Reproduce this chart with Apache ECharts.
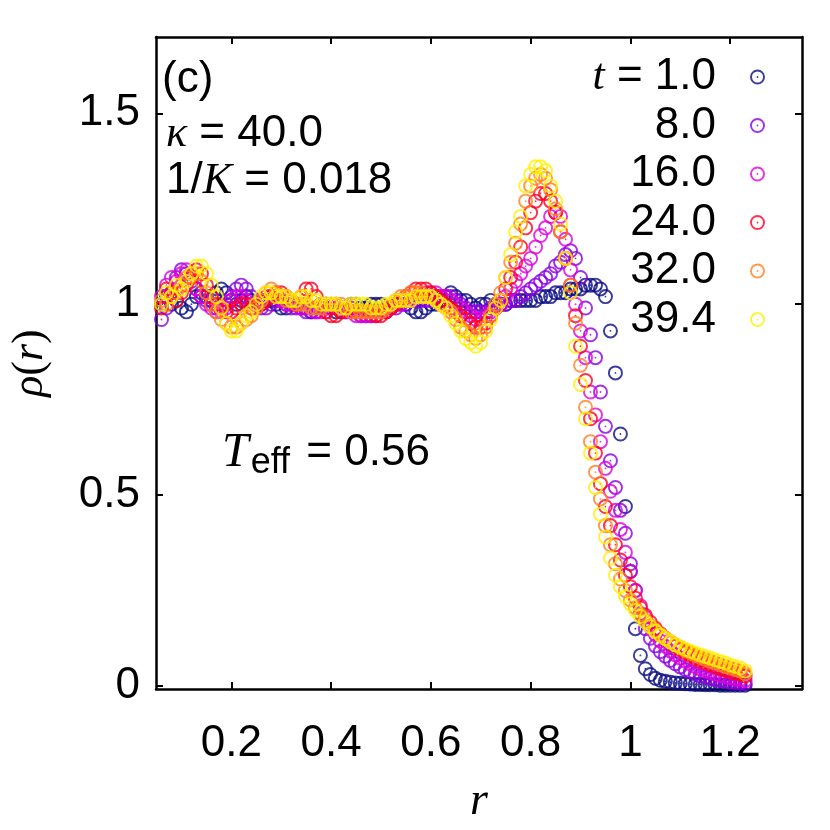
<!DOCTYPE html>
<html>
<head>
<meta charset="utf-8">
<script src="https://cdn.jsdelivr.net/npm/echarts@6/dist/echarts.min.js"></script>
<style>
html, body { margin: 0; padding: 0; background: #fff; }
#chart { width: 830px; height: 830px; }
</style>
</head>
<body>
<div id="chart"></div>
<script>
// radial positions (shared by all snapshots)
const radius = [
    0.06,0.07,0.08,0.09,0.10,0.11,0.12,0.13,0.14,0.15,
    0.16,0.17,0.18,0.19,0.20,0.21,0.22,0.23,0.24,0.25,
    0.26,0.27,0.28,0.29,0.30,0.31,0.32,0.33,0.34,0.35,
    0.36,0.37,0.38,0.39,0.40,0.41,0.42,0.43,0.44,0.45,
    0.46,0.47,0.48,0.49,0.50,0.51,0.52,0.53,0.54,0.55,
    0.56,0.57,0.58,0.59,0.60,0.61,0.62,0.63,0.64,0.65,
    0.66,0.67,0.68,0.69,0.70,0.71,0.72,0.73,0.74,0.75,
    0.76,0.77,0.78,0.79,0.80,0.81,0.82,0.83,0.84,0.85,
    0.86,0.87,0.88,0.89,0.90,0.91,0.92,0.93,0.94,0.95,
    0.96,0.97,0.98,0.99,1.00,1.01,1.02,1.03,1.04,1.05,
    1.06,1.07,1.08,1.09,1.10,1.11,1.12,1.13,1.14,1.15,
    1.16,1.17,1.18,1.19,1.20,1.21,1.22,1.23
];

// rho(r) at t = 1.0
const rhoT1 = [
    1.00,1.02,1.00,1.01,0.99,0.98,1.00,1.02,1.03,1.02,
    1.01,1.03,1.04,1.03,1.01,1.00,1.01,1.02,1.01,1.00,
    1.00,1.01,1.01,1.00,0.99,0.99,1.00,1.00,0.99,0.99,
    0.98,0.99,1.00,1.00,0.99,0.98,0.98,0.99,1.00,1.00,
    0.99,0.99,1.00,1.00,1.00,0.99,0.99,1.00,1.01,1.00,
    0.99,0.98,0.98,0.99,1.00,1.00,1.01,1.02,1.03,1.02,
    1.01,1.01,1.00,0.99,1.00,1.00,1.01,1.00,1.00,1.00,
    1.01,1.01,1.01,1.01,1.01,1.01,1.02,1.02,1.02,1.03,
    1.03,1.03,1.04,1.04,1.04,1.05,1.05,1.05,1.04,1.02,
    0.93,0.82,0.66,0.47,0.30,0.15,0.08,0.045,0.03,0.02,
    0.015,0.012,0.010,0.008,0.007,0.006,0.005,0.004,0.004,0.003,
    0.003,0.003,0.002,0.002,0.002,0.002,0.002,0.002
];

// t = 8.0
const rhoT8 = [
    0.96,0.99,1.03,1.07,1.09,1.08,1.06,1.04,1.02,1.01,
    1.00,0.99,0.99,1.00,1.02,1.04,1.05,1.04,1.02,1.00,
    0.99,0.99,1.00,1.01,1.01,1.00,0.99,0.99,0.99,0.98,
    0.98,0.98,0.99,1.00,1.00,1.00,0.99,0.98,0.98,0.98,
    0.97,0.97,0.97,0.98,0.98,0.98,0.99,0.99,1.00,1.00,
    1.01,1.01,1.01,1.01,1.01,1.02,1.02,1.02,1.02,1.01,
    1.00,0.99,0.98,0.98,0.98,0.98,0.99,0.99,1.00,1.00,
    1.01,1.01,1.02,1.03,1.04,1.05,1.06,1.07,1.08,1.10,
    1.11,1.13,1.14,1.12,1.07,0.99,0.92,0.86,0.77,0.68,
    0.59,0.52,0.46,0.40,0.32,0.25,0.19,0.15,0.125,0.105,
    0.090,0.078,0.067,0.058,0.050,0.043,0.037,0.032,0.027,0.023,
    0.020,0.017,0.014,0.012,0.010,0.009,0.008,0.007
];

// t = 16.0
const rhoT16 = [
    1.02,1.05,1.07,1.06,1.08,1.09,1.07,1.04,1.02,1.00,
    0.99,0.98,0.98,0.99,1.01,1.02,1.02,1.01,1.00,1.00,
    1.01,1.02,1.02,1.02,1.01,1.00,1.00,1.00,0.99,0.99,
    0.99,0.98,0.98,0.98,0.99,0.99,0.99,0.98,0.98,0.97,
    0.97,0.97,0.97,0.97,0.98,0.98,0.99,1.00,1.00,1.01,
    1.01,1.02,1.02,1.03,1.03,1.03,1.02,1.02,1.01,1.00,
    0.99,0.98,0.97,0.96,0.96,0.97,0.98,0.99,1.00,1.02,
    1.04,1.06,1.08,1.10,1.12,1.15,1.18,1.20,1.23,1.24,
    1.23,1.17,1.09,1.00,0.93,0.86,0.77,0.71,0.64,0.57,
    0.51,0.46,0.41,0.35,0.30,0.25,0.21,0.18,0.155,0.135,
    0.118,0.104,0.092,0.082,0.073,0.065,0.058,0.051,0.045,0.040,
    0.035,0.031,0.027,0.024,0.021,0.018,0.016,0.014
];

// t = 24.0
const rhoT24 = [
    0.99,1.04,1.03,1.01,1.03,1.05,1.07,1.09,1.08,1.05,
    1.02,1.00,0.99,0.98,0.98,0.99,1.00,1.00,0.99,0.99,
    1.00,1.01,1.02,1.03,1.03,1.02,1.01,1.00,1.02,1.04,
    1.04,1.02,1.00,0.98,0.97,0.97,0.98,0.99,0.99,0.98,
    0.98,0.98,0.98,0.97,0.97,0.98,0.99,1.00,1.01,1.02,
    1.03,1.04,1.04,1.04,1.03,1.02,1.01,1.00,0.99,0.98,
    0.97,0.96,0.95,0.94,0.94,0.95,0.97,0.99,1.01,1.04,
    1.07,1.11,1.15,1.20,1.24,1.27,1.29,1.29,1.27,1.24,
    1.19,1.12,1.05,0.97,0.89,0.80,0.70,0.61,0.53,0.47,
    0.42,0.37,0.33,0.29,0.26,0.23,0.205,0.185,0.167,0.151,
    0.137,0.125,0.114,0.104,0.095,0.087,0.080,0.073,0.067,0.061,
    0.056,0.051,0.046,0.042,0.038,0.034,0.030,0.026
];

// t = 32.0
const rhoT32 = [
    1.01,1.00,1.02,1.03,1.05,1.07,1.08,1.08,1.06,1.03,
    1.00,0.98,0.96,0.95,0.94,0.94,0.95,0.96,0.97,0.99,
    1.01,1.03,1.04,1.03,1.02,1.01,1.01,1.00,1.00,1.00,
    0.99,0.99,0.99,1.00,1.00,1.00,1.00,0.99,0.98,0.98,
    0.98,0.98,0.98,0.98,0.98,0.99,1.00,1.01,1.02,1.02,
    1.03,1.03,1.03,1.02,1.02,1.01,1.00,0.99,0.98,0.96,
    0.94,0.93,0.92,0.91,0.92,0.94,0.97,1.00,1.03,1.07,
    1.11,1.16,1.21,1.27,1.31,1.33,1.34,1.33,1.30,1.25,
    1.19,1.12,1.05,0.95,0.84,0.73,0.64,0.56,0.49,0.42,
    0.37,0.32,0.28,0.25,0.225,0.205,0.188,0.172,0.158,0.146,
    0.135,0.125,0.116,0.108,0.100,0.093,0.087,0.081,0.075,0.070,
    0.065,0.060,0.056,0.051,0.047,0.043,0.039,0.032
];

// t = 39.4
const rhoT39 = [
    1.00,1.03,1.02,1.05,1.04,1.06,1.08,1.10,1.10,1.08,
    1.05,1.02,0.99,0.95,0.93,0.93,0.95,0.97,0.98,1.00,
    1.02,1.03,1.03,1.02,1.02,1.02,1.01,1.01,1.02,1.02,
    1.01,1.01,1.00,1.00,1.00,1.00,0.99,0.99,1.00,1.00,
    1.00,1.00,0.99,0.99,0.99,1.00,1.00,1.01,1.01,1.01,
    1.01,1.02,1.02,1.02,1.02,1.01,1.00,0.99,0.97,0.95,
    0.93,0.91,0.90,0.89,0.90,0.93,0.96,0.99,1.01,1.07,
    1.13,1.19,1.23,1.31,1.34,1.36,1.36,1.35,1.31,1.27,
    1.21,1.12,1.03,0.89,0.79,0.70,0.61,0.52,0.45,0.39,
    0.335,0.29,0.26,0.235,0.215,0.198,0.182,0.168,0.155,0.143,
    0.133,0.124,0.115,0.108,0.102,0.096,0.091,0.086,0.081,0.077,
    0.073,0.068,0.064,0.060,0.055,0.051,0.047,0.039
];

const seriesNames = ['1.0', '8.0', '16.0', '24.0', '32.0', '39.4'];
const seriesValues = [rhoT1, rhoT8, rhoT16, rhoT24, rhoT32, rhoT39];
const seriesColors = ['#0c0c82', '#8a00e0', '#dc00dc', '#ff0020', '#ff8020', '#fff000'];

const xTicks = [0.2, 0.4, 0.6, 0.8, 1, 1.2];
const yTicks = [0, 0.5, 1, 1.5];

// open ring with a dot in the middle (gnuplot point type 6 look)
const ringDot = 'path://M50,0A50,50 0 1,1 50,100A50,50 0 1,1 50,0Z' +
    'M50,13A37,37 0 1,0 50,87A37,37 0 1,0 50,13Z' +
    'M50,44A6,6 0 1,1 50,56A6,6 0 1,1 50,44Z';

const sans = '"Liberation Sans", Arial, sans-serif';
const serif = '"Liberation Serif", "DejaVu Serif", serif';
const italic = { fontFamily: serif, fontStyle: 'italic', fontSize: 44 };

const axisLine = { show: true, onZero: false, lineStyle: { color: '#000', width: 2.5 } };
const tickStyle = { color: '#000', width: 2 };

let chart = echarts.init(document.getElementById('chart'), null, { renderer: 'canvas' });

let series = seriesNames.map(function (name, k) {
    return {
        name: name,
        type: 'scatter',
        symbol: ringDot,
        symbolSize: 15,
        itemStyle: { color: seriesColors[k] },
        emphasis: { disabled: true },
        data: radius.map(function (r, i) { return [r, seriesValues[k][i]]; })
    };
});

let option = {
    animation: false,
    backgroundColor: '#fff',
    grid: { left: 151, right: 28, top: 37, bottom: 138 },
    xAxis: [
        {
            type: 'value', position: 'bottom',
            min: 0.049, max: 1.344,
            axisLine: axisLine,
            axisTick: { inside: true, length: 7, lineStyle: tickStyle, customValues: xTicks },
            axisLabel: { customValues: xTicks, color: '#000', fontSize: 44, fontFamily: sans, margin: 33 },
            splitLine: { show: false },
            name: 'r', nameLocation: 'middle', nameGap: 90,
            nameTextStyle: { color: '#000', fontSize: 46, fontFamily: serif, fontStyle: 'italic' }
        },
        {
            type: 'value', position: 'top',
            min: 0.049, max: 1.344,
            axisLine: axisLine,
            axisTick: { inside: true, length: 7, lineStyle: tickStyle, customValues: xTicks },
            axisLabel: { show: false },
            splitLine: { show: false }
        }
    ],
    yAxis: [
        {
            type: 'value', position: 'left',
            min: -0.008, max: 1.7,
            axisLine: axisLine,
            axisTick: { inside: true, length: 7, lineStyle: tickStyle, customValues: yTicks },
            axisLabel: { customValues: yTicks, color: '#000', fontSize: 44, fontFamily: sans, margin: 16 },
            splitLine: { show: false },
            name: '{i|ρ}({i|r})', nameLocation: 'middle', nameGap: 104,
            nameTextStyle: { color: '#000', fontSize: 44, fontFamily: serif, rich: { i: italic } }
        },
        {
            type: 'value', position: 'right',
            min: -0.008, max: 1.7,
            axisLine: axisLine,
            axisTick: { inside: true, length: 7, lineStyle: tickStyle, customValues: yTicks },
            axisLabel: { show: false },
            splitLine: { show: false }
        }
    ],
    legend: {
        data: seriesNames,
        orient: 'vertical',
        align: 'right',
        right: 60,
        top: 50,
        itemWidth: 15,
        itemHeight: 15,
        itemGap: 4.5,
        icon: ringDot,
        selectedMode: false,
        formatter: function (name) {
            return name === seriesNames[0] ? '{i|t} = ' + name : name;
        },
        textStyle: {
            color: '#000', fontSize: 44, fontFamily: sans, lineHeight: 44,
            padding: [0, 29, 0, 0],
            rich: { i: Object.assign({ lineHeight: 44 }, italic) }
        }
    },
    graphic: [
        { type: 'text', x: 162, y: 80, style: { text: '(c)', font: '44px ' + sans, fill: '#000', verticalAlign: 'middle' } },
        { type: 'text', x: 166, y: 134, style: { text: '{i|κ} = 40.0', font: '44px ' + sans, fill: '#000', verticalAlign: 'middle', rich: { i: italic } } },
        { type: 'text', x: 166, y: 181, style: { text: '1/{i|K} = 0.018', font: '44px ' + sans, fill: '#000', verticalAlign: 'middle', rich: { i: italic } } },
        {
            type: 'text', x: 222, y: 457,
            style: {
                text: '{i|T}{s|eff}{n| = 0.56}', fill: '#000', verticalAlign: 'middle',
                rich: {
                    i: Object.assign({}, italic, { fontSize: 48, lineHeight: 48, padding: [0, 2, 8, 0] }),
                    s: { fontSize: 36, fontFamily: sans, verticalAlign: 'bottom', lineHeight: 36 },
                    n: { fontSize: 44, fontFamily: sans, lineHeight: 44, padding: [0, 0, 8, 4] }
                }
            }
        }
    ],
    series: series
};

chart.setOption(option);
</script>
</body>
</html>
